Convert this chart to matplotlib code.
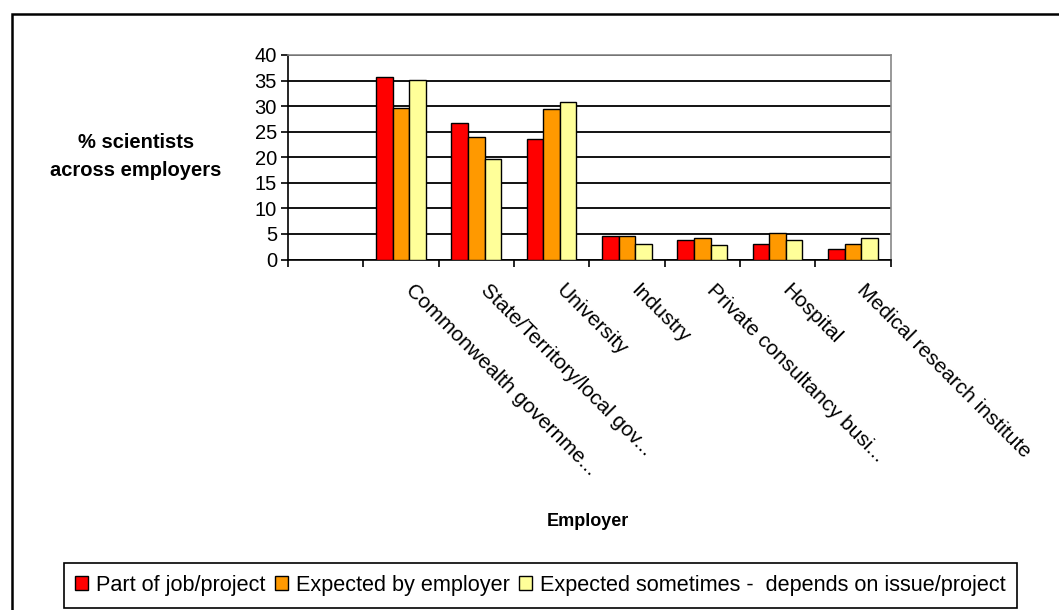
import matplotlib.pyplot as plt
import numpy as np
from matplotlib.patches import Rectangle
from matplotlib.ticker import FixedLocator
from matplotlib.transforms import ScaledTranslation

# employers (first slot left blank on the axis)
employers = ['', 'Commonwealth governme...', 'State/Territory/local gov...', 'University',
             'Industry', 'Private consultancy busi...', 'Hospital', 'Medical research institute']

part_of_job = [np.nan, 35.6, 26.7, 23.5, 4.6, 3.9, 3.1, 2.0]
expected_employer = [np.nan, 29.7, 23.9, 29.4, 4.6, 4.25, 5.1, 3.1]
expected_sometimes = [np.nan, 35.2, 19.6, 30.9, 3.1, 2.75, 3.9, 4.25]

series_names = ['Part of job/project', 'Expected by employer',
                'Expected sometimes -  depends on issue/project']
colors = ['#FF0000', '#FF9900', '#FFFF99']

fig = plt.figure(figsize=(10.59, 6.10), dpi=100)
ax = fig.add_axes([288 / 1059, 1 - 259.5 / 610, (890.5 - 288) / 1059, (259.5 - 55) / 610])

x = np.arange(len(employers))
w = 0.22
for i, (vals, name, c) in enumerate(zip([part_of_job, expected_employer, expected_sometimes],
                                         series_names, colors)):
    ax.bar(x + (i - 1) * w, vals, w, color=c, edgecolor='black', linewidth=1.0,
           label=name, zorder=3)

ax.set_xlim(-0.5, len(employers) - 0.5)
ax.set_ylim(0, 40)
ax.set_yticks(np.arange(0, 41, 5))
ax.yaxis.grid(True, color='black', linewidth=1.3, zorder=0)
ax.set_axisbelow(True)

for s in ['top', 'right']:
    ax.spines[s].set_color('#888888')
    ax.spines[s].set_linewidth(1.2)
for s in ['left', 'bottom']:
    ax.spines[s].set_color('black')
    ax.spines[s].set_linewidth(1.2)

ax.set_xticks(x)
ax.set_xticklabels(employers, rotation=-45, ha='left', va='top', rotation_mode='anchor',
                   fontsize=15, family='Liberation Sans')
ax.tick_params(axis='x', which='major', length=0, pad=12)
shift = ScaledTranslation(14 / 100, -4 / 100, fig.dpi_scale_trans)
for lab in ax.get_xticklabels():
    lab.set_transform(lab.get_transform() + shift)
ax.xaxis.set_minor_locator(FixedLocator(np.arange(-0.5, len(employers), 1.0)))
ax.tick_params(axis='x', which='minor', length=5, width=1.2, direction='out')
ax.tick_params(axis='y', length=5, width=1.2, direction='out', labelsize=14.5, pad=3)
for lab in ax.get_yticklabels():
    lab.set_family('Liberation Sans')

fig.text(136 / 1059, 1 - 157 / 610, '% scientists\nacross employers', ha='center', va='center',
         fontsize=14.5, fontweight='bold', family='Liberation Sans', linespacing=1.6)
fig.text(588 / 1059, 1 - 522 / 610, 'Employer', ha='center', va='center',
         fontsize=13, fontweight='bold', family='Liberation Sans')

leg = fig.legend(loc='lower center', bbox_to_anchor=(540.5 / 1059, 2.5 / 610), ncol=3,
                 frameon=True, fancybox=False, edgecolor='black', framealpha=1,
                 handlelength=0.6, handleheight=0.6, handletextpad=0.35, columnspacing=0.45,
                 borderpad=0.55, borderaxespad=0,
                 prop={'family': 'Liberation Sans', 'size': 15.6})
leg.get_frame().set_linewidth(1.2)

# outer chart border
fig.patches.append(Rectangle((11.5 / 1059, -0.1), 1.2, 1 - 14 / 610 + 0.1,
                             transform=fig.transFigure, fill=False,
                             edgecolor='black', linewidth=1.8, zorder=0))

fig.savefig('out.png', dpi=100)
